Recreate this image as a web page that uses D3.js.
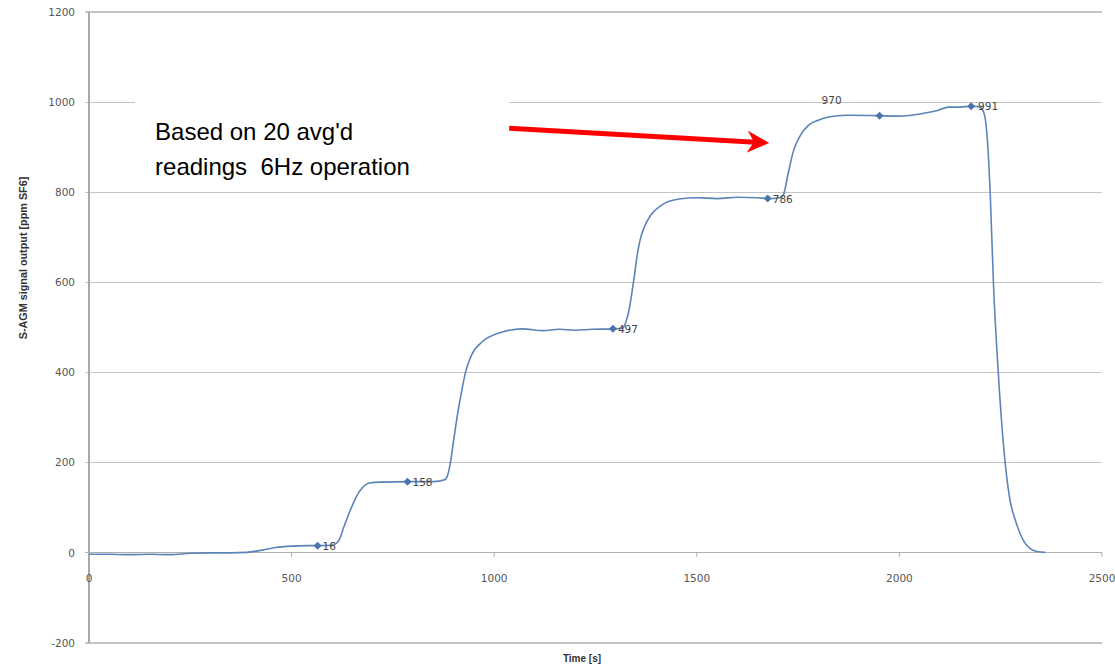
<!DOCTYPE html>
<html>
<head>
<meta charset="utf-8">
<script src="https://cdn.jsdelivr.net/npm/d3@7"></script>
<style>
  body { margin: 0; background: #fff; }
  svg { display: block; }
  .note { white-space: pre; }
</style>
</head>
<body>
<svg id="chart" width="1115" height="664"></svg>
<script>
// ---- data ----
const times = [0,50,100,150,200,250,300,350,390,420,460,500,540,564,600,615,630,645,660,675,692,720,786,850,878,885,892,900,910,920,929,940,951,963,975,995,1020,1069,1120,1160,1200,1240,1293,1318,1325,1333,1340,1346,1352,1359,1370,1387,1414,1456,1500,1550,1600,1650,1675,1705,1714,1725,1739,1755,1776,1800,1825,1870,1950,1990,2030,2070,2096,2121,2150,2177,2195,2207,2216,2224,2232,2244,2261,2273,2286,2305,2322,2340,2360];
const values = [-3,-3,-4,-3,-4,-1,0,0,1,5,12,15,16,16,17,25,60,95,125,145,155,157,158,158,162,172,200,250,310,360,400,430,450,462,472,482,490,497,493,496,494,496,497,499,512,540,578,615,655,690,722,750,772,785,788,786,789,788,786,788,795,840,893,925,949,960,967,971,970,969,971,977,982,989,989,991,990,980,930,800,600,400,200,117,73,29,10,3,1];
const markerTimes = [564, 786, 1293, 1675, 1951, 2177];
const markerValues = [16, 158, 497, 786, 970, 991];
const markerLabels = ["16", "158", "497", "786", "970", "991"];
const xTicks = [0, 500, 1000, 1500, 2000, 2500];
const yTicks = [-200, 0, 200, 400, 600, 800, 1000, 1200];
const xTitle = "Time [s]";
const yTitle = "S-AGM signal output [ppm SF6]";
const noteLines = ["Based on 20 avg'd", "readings  6Hz operation"];

// ---- layout ----
const svg = d3.select("#chart");
const x = d3.scaleLinear().domain([0, 2500]).range([89, 1102]);
const y = d3.scaleLinear().domain([-200, 1200]).range([643, 12]);

// gridlines
svg.append("g").selectAll("line").data(yTicks).join("line")
  .attr("x1", x(0) - 4).attr("x2", x(2500))
  .attr("y1", d => y(d)).attr("y2", d => y(d))
  .attr("stroke", d => d === 0 ? "#b0b0b0" : "#c4c4c4").attr("stroke-width", 1.2)
  .attr("shape-rendering", "crispEdges");

// y axis line
svg.append("line").attr("x1", x(0)).attr("x2", x(0)).attr("y1", y(1200)).attr("y2", y(-200))
  .attr("stroke", "#a8a8a8").attr("stroke-width", 1.2).attr("shape-rendering", "crispEdges");

// x tick marks on zero line
svg.append("g").selectAll("line").data(xTicks).join("line")
  .attr("x1", d => x(d)).attr("x2", d => x(d))
  .attr("y1", y(0)).attr("y2", y(0) + 4)
  .attr("stroke", "#b0b0b0").attr("stroke-width", 1);

// y tick labels
svg.append("g").selectAll("text").data(yTicks).join("text")
  .attr("x", x(0) - 14).attr("y", d => y(d)).attr("dy", "0.35em")
  .attr("text-anchor", "end")
  .attr("font-family", "DejaVu Sans, sans-serif").attr("font-size", 10.5)
  .attr("fill", "#555").text(d => d);

// x tick labels
svg.append("g").selectAll("text").data(xTicks).join("text")
  .attr("x", d => x(d)).attr("y", y(0) + 25).attr("dy", "0.35em")
  .attr("text-anchor", "middle")
  .attr("font-family", "DejaVu Sans, sans-serif").attr("font-size", 10.5)
  .attr("fill", "#555").text(d => d);

// axis titles
svg.append("text").attr("x", 582).attr("y", 658).attr("dy", "0.35em")
  .attr("text-anchor", "middle").attr("font-family", "Liberation Sans, Arial, sans-serif")
  .attr("font-size", 10).attr("font-weight", "bold").attr("fill", "#333").text(xTitle);
svg.append("text").attr("transform", "translate(23,258) rotate(-90)").attr("dy", "0.35em")
  .attr("text-anchor", "middle").attr("font-family", "Liberation Sans, Arial, sans-serif")
  .attr("font-size", 10.8).attr("font-weight", "bold").attr("fill", "#333").text(yTitle);

// data line
const pts = times.map((t, i) => [t, values[i]]);
const line = d3.line().x(d => x(d[0])).y(d => y(d[1])).curve(d3.curveMonotoneX);
svg.append("path").datum(pts).attr("d", line)
  .attr("fill", "none").attr("stroke", "#5b84b8").attr("stroke-width", 1.6);

// markers
const mk = markerTimes.map((t, i) => ({t, v: markerValues[i], label: markerLabels[i]}));
svg.append("g").selectAll("path").data(mk).join("path")
  .attr("transform", d => `translate(${x(d.t)},${y(d.v)})`)
  .attr("d", "M0,-4 L4,0 L0,4 L-4,0 Z")
  .attr("fill", "#4a74ac");

// data labels
const labelOffsets = [[5, 0], [5, 0], [5, 0], [5, 0], [-58, -16], [7, 0]];
svg.append("g").selectAll("text").data(mk).join("text")
  .attr("x", (d, i) => x(d.t) + labelOffsets[i][0])
  .attr("y", (d, i) => y(d.v) + labelOffsets[i][1]).attr("dy", "0.4em")
  .attr("font-family", "DejaVu Sans, sans-serif").attr("font-size", 10.5)
  .attr("fill", "#444").text(d => d.label);

// annotation box
svg.append("rect").attr("x", x(113)).attr("y", y(1002))
  .attr("width", x(1037) - x(113)).attr("height", y(800) - y(1002) - 1)
  .attr("fill", "#fff");
svg.append("g").selectAll("text").data(noteLines).join("text")
  .attr("class", "note")
  .attr("x", x(163)).attr("y", (d, i) => y(916) + i * 35)
  .attr("font-family", "Liberation Sans, Arial, sans-serif").attr("font-size", 24)
  .attr("fill", "#000").text(d => d);

// arrow
const defs = svg.append("defs");
defs.append("marker").attr("id", "ah").attr("viewBox", "0 0 10 10")
  .attr("refX", 8).attr("refY", 5).attr("markerWidth", 4.4).attr("markerHeight", 4.4)
  .attr("orient", "auto").attr("markerUnits", "strokeWidth")
  .append("path").attr("d", "M0,0 L10,5 L0,10 L3,5 Z").attr("fill", "#ff0000");
svg.append("line").attr("x1", x(1037)).attr("y1", y(942))
  .attr("x2", x(1668)).attr("y2", y(910))
  .attr("stroke", "#ff0000").attr("stroke-width", 5)
  .attr("marker-end", "url(#ah)");
</script>
</body>
</html>
